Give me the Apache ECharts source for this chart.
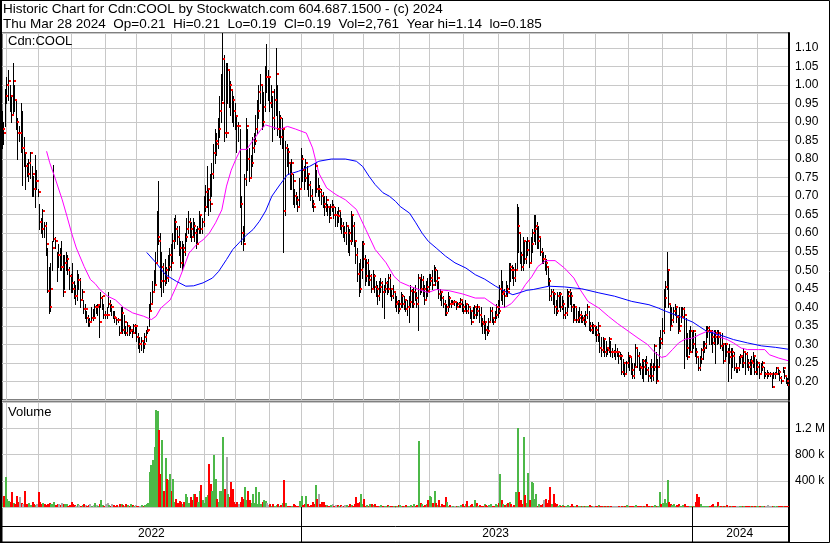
<!DOCTYPE html>
<html><head><meta charset="utf-8">
<script src="https://cdn.jsdelivr.net/npm/echarts@6/dist/echarts.min.js"></script>
<style>html,body{margin:0;padding:0;background:#fff;}#c{width:830px;height:543px;}</style>
</head><body><div id="c"></div>
<script>
// ---------- text ----------
const HEADER1 = 'Historic Chart for Cdn:COOL by Stockwatch.com 604.687.1500 - (c) 2024';
const HEADER2 = 'Thu Mar 28 2024  Op=0.21  Hi=0.21  Lo=0.19  Cl=0.19  Vol=2,761  Year hi=1.14  lo=0.185';
const PRICE_LABEL = 'Cdn:COOL';
const VOLUME_LABEL = 'Volume';
// ---------- calendar (TSX trading days) ----------
const startDate = '2022-03-29';
const endDate = '2024-03-28';
const holidays = ['2022-04-15','2022-05-23','2022-07-01','2022-08-01','2022-09-05','2022-10-10','2022-12-26','2022-12-27',
  '2023-01-02','2023-02-20','2023-04-07','2023-05-22','2023-07-03','2023-08-07','2023-09-04','2023-10-09','2023-12-25','2023-12-26',
  '2024-01-01','2024-02-19'];
// ---------- tick labels ----------
const priceTickLabels = ['0.20','0.25','0.30','0.35','0.40','0.45','0.50','0.55','0.60','0.65','0.70','0.75','0.80','0.85','0.90','0.95','1.00','1.05','1.10'];
const volTickValues = [400000, 800000, 1200000];
const volTickLabels = ['400 k', '800 k', '1.2 M'];
// ---------- daily prices, in cents ----------
const closeC = [
88,87,97,100,101,97,92,101,96,90,
87,87,83,83,81.5,78,76,79,81.5,76,
72,74,74,71,63,61,66,62,57,44.5,
40,45,56,58.5,58,54,54,51,51,44,
52,53,50,48.5,46.5,45,43,43,47.5,47.5,
42,44,39.5,39.5,37,36,36,37,37,40,
40,40.5,36,42.5,43,38,38,38,41,40,
40,37.5,37,36.5,36.5,33,38.5,34,36,33,
35,33.5,34,33,35,35,32,30,30,31,
30,32,33.5,34,39,41,44,46,52,59,
58,47,51,47,50,48,51,54,52,58,
63,61,59,56,52,56,55,59,61,63,
61,59,62,60,57,61,65,61,63,67,
71,72,69,68,76,81.5,85,84,88,93,
95,107,87,87,104,100,98.5,96,93,91.5,
89,89,68,60,57,74.5,89,80,75,79,
83,85,88,93,98,100,90,94,102,102,
102,95,98,91,96,103,88,91,86,88,
66,83,82,79,76,79,74,70,69,67,
72,80,77,75,79,76,73,70,68,67,
78,72,72,71,70,68,67,69,67,64,
67,67,65,65,64.5,66,62,62,60,60,
62,60,58,65,62,58,54,49,45,50,
57,53,48.5,52,47.5,48.5,45,48.5,45.5,45,
43,45.5,46.5,44,45,46.5,45,48,45,43,
44,41,41.5,39.5,41,43,41,42,39.5,40,
41.5,44.5,41,44,42.5,41,48,45,47.5,45,
42,45.5,44.5,47,48,46,50,47,48,43.5,
44,42.5,41,38.5,40,42.5,41,41,41.5,41.5,
40,41,41,42,40,39,41,39,40,39,
36,38,40,39,40,38,36,35.5,36,34,
33.5,36,39,37,36,38,40,39,45,43.5,
44,43,45,44,51,50,50,48,50,62,
60,54,51,58,53,55.5,58,52,57,60,
61,62,58,59,55,53,53,52,51,47,
43,44,43.5,40,39,43,43.5,40,41,38,
38.5,43,44,43,40,36.5,40,36.5,37,38,
36.5,37,36,38,40,35,34,35,35,34,
32.5,35,29,28.5,31.5,28,29,28.5,31.5,28,
28,28,28,28,27,27,22.5,25,22,25,
27,26.5,23,21.5,24,29,27,24,23.5,25.5,
24,25,23,21.5,24,21.5,24,29.5,20,24,
31.5,30.5,33.5,42.5,45.5,50,41,35,36.5,39,
40,37.5,33.5,35,37.5,39.5,38,29,26.5,28,
33.5,30,33.5,28,26.5,23.5,26,28.5,29,30,
33.5,34.5,33.5,32,30.5,32,33,32,33,29.5,
30,25.5,30,28,28,26.5,28,27,23.5,23.5,
23.5,26.5,27,25,28,27.5,25,24,25.5,25,
27,22.5,24,25,22,24,25,22,22,22,
22,22,18.5,22,22,23.5,22.5,21,20,23.5,
21.5,20,19];
const highC = [
93,90,99,102,104,100,97,106,100,96,
91,89,95,93,86,82,79,80,82,78,
75.5,81,77,72,68,64,66.5,63,63,56,
51,52,58,78.5,59,55,57,56,58,54,
54,55,54,51,49,52,47,46,50,49,
48,45,42,41,39,38,37,40,39.5,41,
40.5,41,41,44,43,41,39,40,44,42,
41,39,39,37.5,37,35,40,40,38,35,
36,35,35,34,35.5,35.5,35,33,32,32,
31,33,34,35,41,44,47,50,55,66,
74,60,55,52,53,51,54,56,57,60,
64,65,62,62,58,58,57,60,64,66,
64,63,64,63,61,62,66,65,64,70,
73,78,72,76,79,84,88,87,91,97,
103,114,108,106,106,104,101,99,97,95,
92,90,88,70,62,76,91,88,83,81,
86,87,92,96,100,103,100,98,105,111,
104,102,100,97,99,110,100,93,92,91,
88,85,84,83,79,80,76,72,71,70,
75,83,81,78,80,78,76,74,72,69,
79,77,75,73,72,71,70,70,68,67,
68,69,68,67,66,67,66,64,63,62,
63,62,61,66,65,63,58,56,52,53,
58,58,54,53,53,50,49,50,49,47,
46,47,48,47,46,48,47,49,49,45,
46,44,43,42,42,44,43.5,43,42,42,
43,46,45,45.5,46,44,49,48,49,48.5,
46,47,48,49,49,50,51.5,51,50,47,
45,44,43,42,41,44,43,42,42,42,
41.5,41.5,41.5,42.5,42,41,42,41,41,40,
39,40,40.5,40,41,40,40,37,38,36,
35,37,40,40,37.5,39,41,42,46,50,
47,45,47,46,52,52,51.5,51,52,68,
67,60,55,59,58,58,59,58,59,61,
65,65,63,62,59,56,55,54,53,51,
48,45,45,44,42,44,44,44,43,42,
40,45,44.5,45,44,41,41,40,39,40,
39,38,38,39,41,39,36,36,35.5,35,
35,36,33,32,32,31.5,31,29,32,31,
29,28.5,30,29,28,28,27.5,26,25,25.5,
28,27,27,25,25,30,29,28,25,26,
26,26,27,24,25,26,25,30,28,26,
32,34,37,45,47,55,50,41,40,40,
41,40,38,40,40,40,40,37,33,34,
35,34,34,33,29,27,27,29,31,31,
35,35,35,34,34,34,34,34,34,33,
33,30,30.5,30,29,30,29,29,28,25,
24,27,27.5,27,29,28,28,26,26,27,
28,27,26,25.5,25,25,25.5,24,22.5,23,
22.5,22.5,22,22.5,22.5,24,24,23,21.5,24,
23,21.5,21];
const lowC = [
83,84,89,95,96,93,90,92,93,88,
80,85,82,73,78,72,75.5,74,75,70,
70,67,72,70,61,60,59,59,54,44,
38.5,39,50,58,56,47,51,50,50,43,
45,50,49,45,44,44,42.5,41,42,45,
40,42,38.5,37,36,35,35,36,36.5,37,
38.5,38,32,40,39.5,37,37,37,40,39,
38,37,36,35.5,36,32.5,33,33,33,32.5,
32.5,32.5,33,32,33,33,31,29,28,28.5,
28,29,31,33,35,39,41,44,46,52,
57,45.5,43,44,46,46.5,47,50,50,52,
56,58,57,54,51,50,51,54,58,60,
59,58,59,58,56,57,60,60,60,62,
66,67,65,66,70,75,79,81,83,86,
90,96,85,86,95,94,92,90,89,88,
82,85,67,57,55.5,58,73,77,74,75,
78,82,84,87,91,95,88,89,93,98,
96,93,94,85,88,92,86.5,86,84,83,
55,65,78,76,72,72,68,67,68,66,
67,72,74,72,74,72,70,69,67,66,
70,71,70,69,68,67,65,66,65,63,
65,66,64,62,62,63,61,60,59,58,
57,55,54,57,58,56.5,52,47,43,44,
48,51,46,47,46,46,44,45,44,43,
41,42,44,40,37,44,43.5,44,43,42,
42.5,40,39,38.5,39,40,40,39.5,39,38,
36,40,40,40,42,40,34,43.5,44,43,
41,42,43,44,46,45,47,46,45,42.5,
42,40.5,40,38,38,39,40,40,41,40.5,
39.5,40,40,40,39,38.5,39,38.5,38.5,37,
35.5,37,37,37,38,36,35,33,33,31.5,
32.5,33,36,36,35.5,36,37,37.5,38.5,42,
41,40,43,43,45,47,48,46,47,50,
55,52,50,50,52,52,54,51,52,55,
58,57,56,56,54,52,52,50,49,46,
42,42,41,38.5,38,38.5,40,39,39.5,37,
37,38,40,41,39,36,37,36,36,36,
36,36,35.5,35,37,34,33.5,33,33,32.5,
31,31,28,27,28,27,27,27.5,28,27,
26.5,27,26,27,25,26,22,22,21.5,22,
24,23,22,21,21,24,24,23,22,21,
20,22,22,20,21,20,20.5,23,19.5,20,
24,29,30,33,40,45,40,34,35,36,
38,36,33,34,36,38,23.5,27,26,27.5,
28,28,29,27,25,23,23,25,26,28,
29,32,30,30,28,30,25,30,30.5,29,
28.5,25,25.5,27,20,25,21,24,23,22.5,
22.5,23,25,24,24,22,24,23,22,22,
24,22,22,22,21,22,23,21,21.5,21,
21.5,21.5,18.5,21,21,22,22,20.5,19.5,22.5,
21,19.5,19];
// ---------- daily volume, in thousands of shares ----------
const volK = [
60,175,456,120,90,70,225,60,50,175,
80,150,60,40,250,50,40,60,30,70,
40,30,50,236,80,40,60,50,30,40,
60,50,40,70,30,50,40,30,60,40,
50,40,20,30,80,40,30,20,50,30,
20,30,40,30,20,30,40,20,30,60,
30,20,40,100,30,20,40,60,30,20,
40,30,20,30,20,40,50,30,20,40,
30,20,40,30,20,30,20,15,20,30,
20,30,40,60,530,640,710,920,1480,1460,
1170,510,1020,250,740,430,405,510,250,430,
70,120,60,90,70,50,70,200,150,60,
150,100,200,200,150,80,250,330,100,60,
150,180,660,354,250,790,430,120,80,250,
250,1070,277,764,200,150,380,277,70,50,
70,50,80,150,120,300,100,250,100,60,
200,60,300,50,225,40,70,100,90,60,
30,50,20,40,20,30,50,20,30,60,
405,60,20,15,20,15,40,25,10,20,
90,160,30,40,175,40,20,30,80,40,
330,120,200,40,70,70,30,30,20,15,
30,40,20,30,25,20,30,15,20,25,
30,20,40,30,20,50,150,60,80,200,
40,120,20,30,20,50,40,30,50,20,
15,20,25,10,15,20,30,10,15,20,
15,20,10,25,30,15,20,10,30,20,
20,30,15,40,20,30,1000,60,40,20,
30,40,100,175,150,60,250,60,30,105,
20,40,30,150,70,20,30,10,15,20,
10,20,15,25,50,20,50,90,20,30,
40,20,100,60,20,30,15,20,50,30,
20,30,40,20,15,40,30,60,508,100,
50,30,40,60,80,40,20,30,236,1200,
225,100,50,1070,190,60,523,100,380,370,
120,200,20,50,30,40,100,120,60,100,
300,40,200,60,40,20,30,20,30,20,
20,30,15,10,40,15,20,25,10,15,
10,15,20,10,15,25,10,15,20,10,
15,30,20,10,15,20,10,15,10,20,
10,15,20,10,15,10,20,15,10,30,
15,10,20,10,15,30,10,15,20,10,
15,10,40,20,15,10,20,30,15,20,
225,40,60,120,60,405,80,40,30,40,
20,30,40,20,10,30,40,20,15,10,
20,10,15,70,200,150,40,20,15,10,
20,10,15,30,50,20,15,70,10,20,
10,15,20,25,10,15,20,10,15,10,
15,10,20,5,15,10,20,10,15,10,
10,20,10,15,10,5,10,15,10,30,
10,5,20,10,15,10,5,10,15,10,
5,10,2.761];
// ---------- moving averages (day index, price) ----------
const maFastIdx = [28,30,33,38,41,44,47,52,56,59,62,67,72,77,83,90,95,98,101,107,111,115,119,124,128,132,136,140,143,146,149,152,156,159,162,165,168,171,177,182,187,194,198,202,207,213,219,226,232,238,245,250,254,260,266,272,277,285,294,302,308,314,317,321,325,330,334,338,342,347,353,359,365,369,374,381,387,393,400,406,412,417,421,424,428,432,436,441,445,450,454,458,463,467,472,476,483,487,490,496,502];
const maFastVal = [.821,.79,.754,.69,.646,.60,.56,.51,.475,.464,.448,.43,.42,.40,.385,.376,.367,.376,.398,.42,.457,.50,.546,.57,.582,.60,.628,.663,.727,.77,.80,.826,.826,.845,.862,.88,.892,.888,.88,.888,.881,.87,.83,.762,.722,.704,.69,.664,.61,.556,.52,.484,.468,.457,.448,.44,.448,.445,.436,.425,.425,.407,.40,.40,.41,.434,.461,.482,.51,.526,.526,.506,.479,.448,.416,.398,.376,.356,.335,.317,.30,.277,.265,.268,.286,.304,.314,.317,.326,.335,.335,.32,.313,.304,.29,.286,.286,.286,.272,.263,.256];
const maSlowIdx = [92,98,104,111,117,122,128,134,138,143,147,151,155,160,164,168,172,177,182,189,196,202,210,219,226,230,234,238,243,247,251,254,260,264,268,272,277,283,289,296,302,308,315,321,326,330,335,339,349,359,370,381,391,402,413,419,424,432,441,450,458,467,476,485,494,502];
const maSlowVal = [.548,.52,.488,.47,.457,.458,.466,.479,.497,.529,.556,.574,.592,.61,.632,.66,.70,.73,.758,.767,.78,.794,.80,.80,.794,.78,.754,.731,.709,.70,.686,.672,.654,.628,.60,.578,.56,.538,.52,.506,.488,.476,.457,.443,.434,.439,.446,.448,.457,.455,.45,.439,.43,.416,.407,.398,.389,.376,.36,.335,.326,.313,.304,.296,.292,.287];

// ---------- build ----------
const dates = [];
{
  const end = new Date(endDate + 'T00:00:00Z');
  for (let d = new Date(startDate + 'T00:00:00Z'); d <= end; d.setUTCDate(d.getUTCDate() + 1)) {
    const wd = d.getUTCDay(); const s = d.toISOString().slice(0, 10);
    if (wd === 0 || wd === 6 || holidays.includes(s)) continue;
    dates.push(s);
  }
}
if (dates.length !== closeC.length) console.error('length mismatch', dates.length, closeC.length, highC.length, lowC.length, volK.length);
const monthStart = new Set(), yearStart = new Set(), yearMid = new Set();
{
  let ys = 0;
  for (let i = 1; i <= dates.length; i++) {
    if (i < dates.length && dates[i].slice(5, 7) !== dates[i - 1].slice(5, 7)) monthStart.add(i);
    if (i === dates.length || dates[i].slice(0, 4) !== dates[i - 1].slice(0, 4)) {
      if (i < dates.length) yearStart.add(i);
      yearMid.add(Math.floor((ys + i - 1) / 2));
      ys = i;
    }
  }
}
const priceData = closeC.map((c, i) => [i, highC[i] / 100, lowC[i] / 100, c / 100]);
const volColors = ['#ff0000', '#4cb848', '#a8a8a8'];
const volData = volK.map((v, i) => {
  const dir = i === 0 ? 1 : (closeC[i] > closeC[i - 1] ? 1 : (closeC[i] < closeC[i - 1] ? 0 : 2));
  return [i, v * 1000, dir];
});
const maFast = maFastIdx.map((i, k) => [i, maFastVal[k]]);
const maSlow = maSlowIdx.map((i, k) => [i, maSlowVal[k]]);

const FONT = "'Liberation Sans', Arial, sans-serif";
const GRIDC = '#c8c8c8';
const txt = (size) => ({ fontSize: size, fontWeight: 'normal', color: '#000', fontFamily: FONT });
const xAx = (gi, setFn, color) => ({
  type: 'category', gridIndex: gi, data: dates, boundaryGap: true,
  axisLine: { show: false }, axisTick: { show: false }, axisLabel: { show: false },
  splitLine: { show: true, interval: (i) => setFn.has(i), lineStyle: { color: color, width: 1 } }
});
const xDate = xAx(2, yearStart, '#000');
xDate.axisLabel = { show: true, inside: true, margin: 2, interval: (i) => yearMid.has(i),
  formatter: (v) => v.slice(0, 4), ...txt(12) };

const chart = echarts.init(document.getElementById('c'), null, { renderer: 'canvas' });
chart.setOption({
  animation: false,
  backgroundColor: '#fff',
  title: [
    { text: HEADER1, left: 3, top: 2, padding: 0, textStyle: txt(13.5) },
    { text: HEADER2, left: 3, top: 17, padding: 0, textStyle: txt(13.5) },
    { text: PRICE_LABEL, left: 8, top: 35, padding: 0, textStyle: txt(13) },
    { text: VOLUME_LABEL, left: 8, top: 406, padding: 0, textStyle: txt(13) }
  ],
  grid: [
    { left: 2, top: 33, width: 787, height: 367, show: true, borderColor: '#000', borderWidth: 1 },
    { left: 2, top: 402, width: 787, height: 105, show: true, borderColor: '#000', borderWidth: 1 },
    { left: 2, top: 507, width: 787, height: 35, show: true, borderColor: '#000', borderWidth: 1 }
  ],
  xAxis: [xAx(0, monthStart, GRIDC), xAx(1, monthStart, GRIDC), xDate],
  yAxis: [
    { type: 'value', gridIndex: 0, position: 'right', min: 0.15, max: 1.14, interval: 0.05,
      axisLine: { show: true, lineStyle: { color: '#000', width: 2 } }, axisTick: { show: false },
      axisLabel: { margin: 6, ...txt(12), formatter: (v) => { const s = v.toFixed(2); return priceTickLabels.includes(s) ? s : ''; } },
      splitLine: { show: true, lineStyle: { color: GRIDC, width: 1 } } },
    { type: 'value', gridIndex: 1, position: 'right', min: 0, max: 1600000, interval: 400000,
      axisLine: { show: true, lineStyle: { color: '#000', width: 2 } }, axisTick: { show: false },
      axisLabel: { margin: 6, ...txt(12), formatter: (v) => { const k = volTickValues.indexOf(Math.round(v)); return k >= 0 ? volTickLabels[k] : ''; } },
      splitLine: { show: true, lineStyle: { color: GRIDC, width: 1 } } },
    { type: 'value', gridIndex: 2, position: 'right', min: 0, max: 1,
      axisLine: { show: true, lineStyle: { color: '#000', width: 2 } }, axisTick: { show: false },
      axisLabel: { show: false }, splitLine: { show: false } }
  ],
  series: [
    { type: 'custom', name: 'range', xAxisIndex: 0, yAxisIndex: 0, data: priceData, encode: { x: 0, y: [1, 2, 3] }, clip: true, z: 2,
      renderItem: (params, api) => {
        const i = api.value(0);
        const ph = api.coord([i, api.value(1)]), pl = api.coord([i, api.value(2)]);
        const x = Math.round(ph[0]) - 0.5;
        return { type: 'line', shape: { x1: x, y1: Math.round(ph[1]), x2: x, y2: Math.round(pl[1]) + 1 },
          style: { stroke: '#000', lineWidth: 1 } };
      } },
    { type: 'line', name: 'maFast', xAxisIndex: 0, yAxisIndex: 0, data: maFast, showSymbol: false, z: 3,
      lineStyle: { color: '#ff00ff', width: 1 }, itemStyle: { color: '#ff00ff' } },
    { type: 'line', name: 'maSlow', xAxisIndex: 0, yAxisIndex: 0, data: maSlow, showSymbol: false, z: 3,
      lineStyle: { color: '#0000ff', width: 1 }, itemStyle: { color: '#0000ff' } },
    { type: 'custom', name: 'close', xAxisIndex: 0, yAxisIndex: 0, data: priceData, encode: { x: 0, y: 3 }, clip: true, z: 4,
      renderItem: (params, api) => {
        const i = api.value(0);
        const pc = api.coord([i, api.value(3)]);
        const x = Math.round(pc[0]);
        return { type: 'rect', shape: { x: x, y: Math.round(pc[1]) - 1, width: 2, height: 2 }, style: { fill: '#ff0000' } };
      } },
    { type: 'custom', name: 'volume', xAxisIndex: 1, yAxisIndex: 1, data: volData, encode: { x: 0, y: 1 }, clip: true, z: 2,
      renderItem: (params, api) => {
        const i = api.value(0), v = api.value(1);
        const p0 = api.coord([i, 0]), p1 = api.coord([i, v]);
        const x = Math.round(p0[0] - 1);
        const h = Math.max(1, Math.round(p0[1] - p1[1]));
        return { type: 'rect', shape: { x: x, y: Math.round(p0[1]) - h, width: 2, height: h },
          style: { fill: volColors[api.value(2)] } };
      } }
  ],
  graphic: [
    { type: 'rect', silent: true, z: 100, shape: { x: 0.5, y: 0.5, width: 829, height: 542 }, style: { fill: null, stroke: '#000', lineWidth: 1 } },
    { type: 'line', silent: true, z: 100, shape: { x1: 1, y1: 0, x2: 1, y2: 543 }, style: { stroke: '#000', lineWidth: 2 } },
    { type: 'line', silent: true, z: 100, shape: { x1: 2, y1: 526.5, x2: 789, y2: 526.5 }, style: { stroke: '#000', lineWidth: 1 } }
  ]
});
</script>
</body></html>
